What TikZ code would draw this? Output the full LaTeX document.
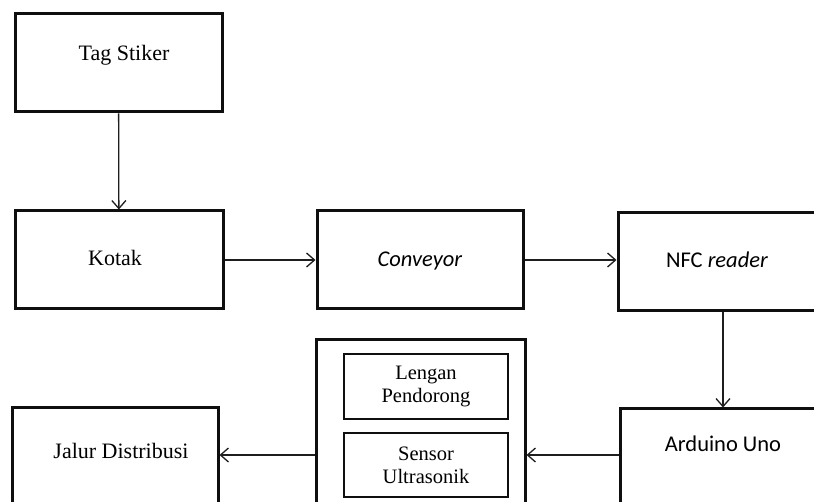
\documentclass[tikz,border=0pt]{standalone}
\usepackage{fontspec}
\setmainfont{Liberation Serif}
\newfontfamily\calibri{Carlito}
\usepackage{tikz}
\usetikzlibrary{arrows.meta}
\definecolor{box_black}{RGB}{15,15,15}
\definecolor{edge_black}{RGB}{30,30,30}

\begin{document}
\begin{tikzpicture}[->,>={Straight Barb[length=8pt,width=14pt]},x=1pt,y=-1pt]
    \tikzstyle{blok}=[draw=box_black, line width=3pt, rectangle, minimum width=207pt, minimum height=98pt, inner sep=0pt]
    \tikzstyle{sub}=[draw=box_black, line width=1.4pt, rectangle, minimum width=164pt, minimum height=64pt, inner sep=0pt, align=center, font=\fontsize{20.5}{23}\selectfont]
    \tikzstyle{serif}=[anchor=base, inner sep=0pt, font=\fontsize{22}{24}\selectfont]
    \tikzstyle{sans}=[anchor=base, inner sep=0pt, font=\calibri\fontsize{22.5}{24}\selectfont]

    \useasboundingbox (0,0) rectangle (814,502);

    \node[blok]                                         (tag)     at (118.5,63) {};
    \node[blok, minimum width=208pt]                    (kotak)   at (119,260)  {};
    \node[blok, minimum width=206pt]                    (conv)    at (420,260)  {};
    \node[blok, minimum width=198pt]                    (nfc)     at (717,262)  {};
    \node[blok, minimum width=206pt, minimum height=110pt] (arduino) at (723,464) {};
    \node[blok, minimum width=209pt, minimum height=190pt] (mid)    at (420.5,435) {};
    \node[blok, minimum width=206pt, minimum height=110pt] (jalur)  at (115,463) {};

    \node[sub, minimum height=65pt] (lengan) at (426,386.5) {Lengan\\Pendorong};
    \node[sub]                      (sensor) at (426,465)   {Sensor\\Ultrasonik};

    \node[serif] (tag_t)     at (124,61)  {Tag Stiker};
    \node[serif] (kotak_t)   at (115,266) {Kotak};
    \node[sans]  (conv_t)    at (420,267) {\textit{Conveyor}};
    \node[sans]  (nfc_t)     at (717,268) {NFC \textit{reader}};
    \node[sans]  (arduino_t) at (723,451) {Arduino Uno};
    \node[serif] (jalur_t)   at (121,458) {Jalur Distribusi};

    \coordinate (lvl) at (0,455);

    \path[color=edge_black, line width=1.3pt]
     (tag) edge (kotak)
     (kotak) edge (conv)
     (conv.east) edge (conv.east -| nfc.west)
     (arduino.north |- nfc.south) edge (arduino.north)
     (arduino.west |- lvl) edge (mid.east |- lvl)
     (mid.west |- lvl) edge (jalur.east |- lvl)
     ;
\end{tikzpicture}
\end{document}
